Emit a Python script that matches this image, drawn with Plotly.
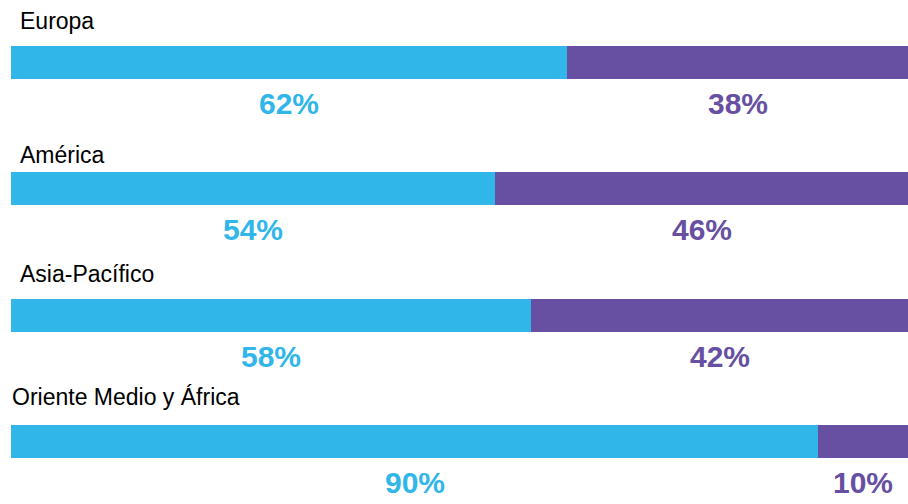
import plotly.graph_objects as go

regions = ["Europa", "América", "Asia-Pacífico", "Oriente Medio y África"]
share_a = [62, 54, 58, 90]
share_b = [38, 46, 42, 10]
color_a = "#31B6E9"
color_b = "#6750A1"

ypos = list(range(len(regions)))
title_shift = [7, 7, 7, -1]
title_yshift = [42, 34, 41, 44]

fig = go.Figure()
fig.add_trace(go.Bar(y=ypos, x=share_a, orientation="h", marker=dict(color=color_a, line=dict(width=0)),
                     width=0.26, hoverinfo="skip", showlegend=False))
fig.add_trace(go.Bar(y=ypos, x=share_b, orientation="h", marker=dict(color=color_b, line=dict(width=0)),
                     width=0.26, hoverinfo="skip", showlegend=False))

ann = []
for i, (name, a, b) in enumerate(zip(regions, share_a, share_b)):
    ann.append(dict(x=0, xref="paper", y=i, yref="y", text=name, showarrow=False,
                    xanchor="left", yanchor="middle", yshift=title_yshift[i], xshift=title_shift[i],
                    font=dict(family="Liberation Sans, Arial", size=23, color="#000000")))
    ann.append(dict(x=a / 2, y=i, text=f"<b>{a}%</b>", showarrow=False, xanchor="center", yanchor="middle",
                    yshift=-41, font=dict(family="Liberation Sans, Arial", size=30, color=color_a)))
    ann.append(dict(x=a + b / 2, y=i, text=f"<b>{b}%</b>", showarrow=False, xanchor="center", yanchor="middle",
                    yshift=-41, font=dict(family="Liberation Sans, Arial", size=30, color=color_b)))

fig.update_layout(
    width=908, height=504, margin=dict(l=11, r=0, t=0, b=0),
    barmode="stack", bargap=0,
    paper_bgcolor="white", plot_bgcolor="white",
    xaxis=dict(range=[0, 100], visible=False, fixedrange=True),
    yaxis=dict(range=[3.495, -0.495], visible=False, fixedrange=True),
    annotations=ann,
)
fig.write_html("out.html")
